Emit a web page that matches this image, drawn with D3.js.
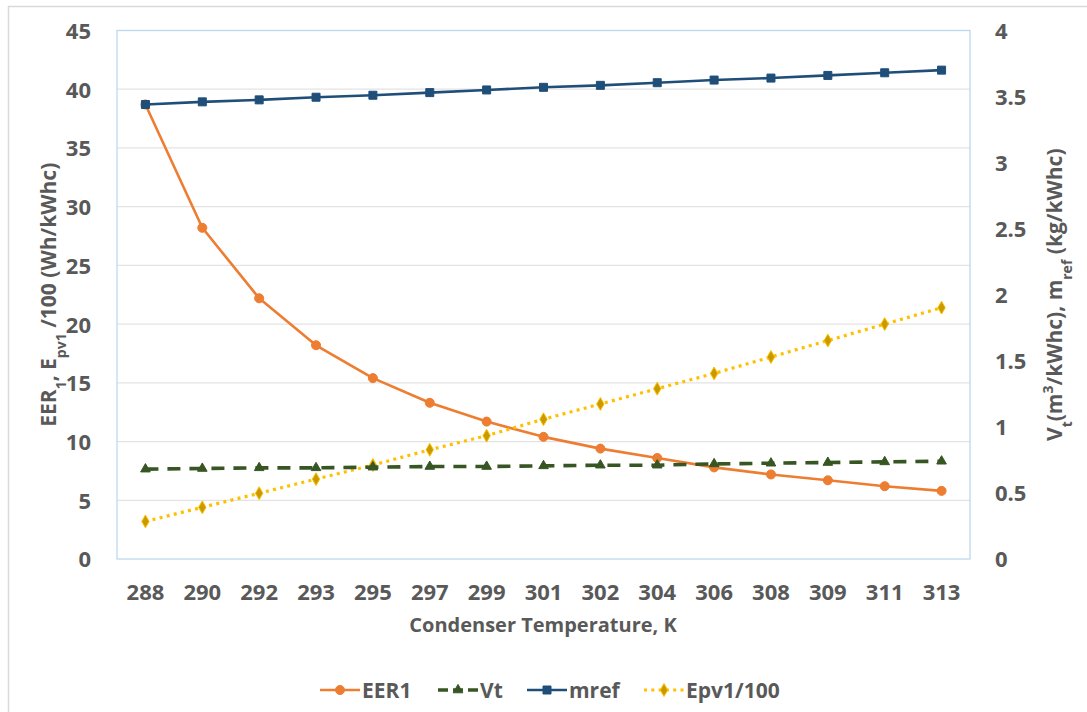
<!DOCTYPE html>
<html>
<head>
<meta charset="utf-8">
<script src="https://cdn.jsdelivr.net/npm/d3@7"></script>
<style>
  html, body { margin: 0; padding: 0; background: #fff; }
  svg { display: block; }
  text { font-family: "Open Sans", "Noto Sans", sans-serif; font-weight: 700; fill: #595959; }
</style>
</head>
<body>
<svg id="chart" width="1087" height="712"></svg>
<script>
// Condenser temperature categories (K)
const categories = ["288","290","292","293","295","297","299","301","302","304","306","308","309","311","313"];

// Primary axis series
const eer1    = [38.7, 28.2, 22.2, 18.2, 15.4, 13.3, 11.7, 10.4, 9.4, 8.6, 7.8, 7.2, 6.7, 6.2, 5.8];
const epv1100 = [3.2, 4.4, 5.6, 6.8, 8.0, 9.3, 10.5, 11.9, 13.2, 14.5, 15.8, 17.2, 18.6, 20.0, 21.4];

// Secondary axis series
const vt   = [0.68, 0.685, 0.69, 0.69, 0.695, 0.70, 0.70, 0.705, 0.71, 0.71, 0.72, 0.725, 0.73, 0.735, 0.74];
const mref = [3.44, 3.46, 3.475, 3.495, 3.51, 3.53, 3.55, 3.57, 3.585, 3.605, 3.625, 3.64, 3.66, 3.68, 3.70];

// Axis tick values
const leftTicks  = [0, 5, 10, 15, 20, 25, 30, 35, 40, 45];
const rightTicks = [0, 0.5, 1, 1.5, 2, 2.5, 3, 3.5, 4];
const rightTickLabels = ["0", "0.5", "1", "1.5", "2", "2.5", "3", "3.5", "4"];

const svg = d3.select("#chart");

const plot = { left: 117, right: 970, top: 30.5, bottom: 559 };

// Outer chart frame
svg.append("rect")
  .attr("x", 8.5).attr("y", 6.5)
  .attr("width", 1100).attr("height", 720)
  .attr("fill", "#fff").attr("stroke", "#d9d9d9").attr("stroke-width", 1.5);

const x = d3.scaleBand().domain(categories).range([plot.left, plot.right]).padding(0);
const yL = d3.scaleLinear().domain([0, 45]).range([plot.bottom, plot.top]);
const yR = d3.scaleLinear().domain([0, 4]).range([plot.bottom, plot.top]);
const cx = d => x(d) + x.bandwidth() / 2;

// Horizontal gridlines
svg.append("g")
  .selectAll("line")
  .data(leftTicks.filter(t => t > 0 && t < 45))
  .join("line")
  .attr("x1", plot.left).attr("x2", plot.right)
  .attr("y1", d => yL(d)).attr("y2", d => yL(d))
  .attr("stroke", "#e3e3e3").attr("stroke-width", 1.3);

// Plot area border
svg.append("rect")
  .attr("x", plot.left).attr("y", plot.top)
  .attr("width", plot.right - plot.left).attr("height", plot.bottom - plot.top)
  .attr("fill", "none").attr("stroke", "#bdd7ee").attr("stroke-width", 1.3);

// Left axis
const axL = svg.append("g")
  .attr("transform", `translate(${plot.left},0)`)
  .call(d3.axisLeft(yL).tickValues(leftTicks).tickSize(0).tickPadding(26));
axL.select(".domain").remove();
axL.selectAll("text").style("font-size", "22px").attr("fill", "#595959").attr("dy", "0.36em");

// Right axis
const axR = svg.append("g")
  .attr("transform", `translate(${plot.right},0)`)
  .call(d3.axisRight(yR).tickValues(rightTicks).tickFormat((d, i) => rightTickLabels[i]).tickSize(0).tickPadding(25));
axR.select(".domain").remove();
axR.selectAll("text").style("font-size", "22px").attr("fill", "#595959").attr("dy", "0.36em");

// Bottom axis
const axB = svg.append("g")
  .attr("transform", `translate(0,${plot.bottom})`)
  .call(d3.axisBottom(x).tickSize(0).tickPadding(25));
axB.select(".domain").remove();
axB.selectAll("text").style("font-size", "22px").attr("fill", "#595959").attr("dy", "0.71em");

// Axis titles
svg.append("text")
  .attr("x", 543).attr("y", 632)
  .attr("text-anchor", "middle")
  .style("font-size", "20px")
  .text("Condenser Temperature, K");

const leftTitle = svg.append("text")
  .attr("transform", `translate(56,${(plot.top + plot.bottom) / 2}) rotate(-90)`)
  .attr("text-anchor", "middle")
  .style("font-size", "21px");
leftTitle.append("tspan").text("EER");
leftTitle.append("tspan").attr("baseline-shift", "sub").style("font-size", "14px").text("1");
leftTitle.append("tspan").text(", E");
leftTitle.append("tspan").attr("baseline-shift", "sub").style("font-size", "14px").text("pv1");
leftTitle.append("tspan").text(" /100 (Wh/kWhc)");

const rightTitle = svg.append("text")
  .attr("transform", `translate(1062,${(plot.top + plot.bottom) / 2}) rotate(-90)`)
  .attr("text-anchor", "middle")
  .style("font-size", "21px");
rightTitle.append("tspan").text("V");
rightTitle.append("tspan").attr("baseline-shift", "sub").style("font-size", "14px").text("t");
rightTitle.append("tspan").text("(m");
rightTitle.append("tspan").attr("baseline-shift", "super").style("font-size", "14px").text("3");
rightTitle.append("tspan").text("/kWhc), m");
rightTitle.append("tspan").attr("baseline-shift", "sub").style("font-size", "14px").text("ref");
rightTitle.append("tspan").text(" (kg/kWhc)");

// Series definitions
const series = [
  { name: "EER1", values: eer1, y: yL, color: "#ed7d31", width: 2.6, dash: null, marker: d3.symbolCircle, msize: 64, mfill: "#ed7d31", mstroke: "#ed7d31" },
  { name: "Epv1/100", values: epv1100, y: yL, color: "#ffc000", width: 3.2, dash: "3,4.3", marker: d3.symbolDiamond, msize: 48, mfill: "#c99a00", mstroke: "#ffc000" },
  { name: "Vt", values: vt, y: yR, color: "#375623", width: 3.6, dash: "13,9", marker: d3.symbolTriangle, msize: 40, mfill: "#375623", mstroke: "#375623" },
  { name: "mref", values: mref, y: yR, color: "#1f4e79", width: 2.6, dash: null, marker: d3.symbolSquare, msize: 64, mfill: "#1f4e79", mstroke: "#1f4e79" }
];

series.forEach(s => {
  const g = svg.append("g");
  const line = d3.line().x((d, i) => cx(categories[i])).y(d => s.y(d));
  g.append("path")
    .datum(s.values)
    .attr("d", line)
    .attr("fill", "none")
    .attr("stroke", s.color)
    .attr("stroke-width", s.width)
    .attr("stroke-dasharray", s.dash)
    .attr("stroke-linejoin", "round");
  g.selectAll("path.m")
    .data(s.values)
    .join("path")
    .attr("class", "m")
    .attr("d", d3.symbol().type(s.marker).size(s.msize))
    .attr("transform", (d, i) => `translate(${cx(categories[i])},${s.y(d)})`)
    .attr("fill", s.mfill)
    .attr("stroke", s.mstroke)
    .attr("stroke-width", 1);
});

// Legend
const legendItems = [
  { label: "EER1", s: series[0], x0: 320 },
  { label: "Vt", s: series[2], x0: 438 },
  { label: "mref", s: series[3], x0: 527 },
  { label: "Epv1/100", s: series[1], x0: 644 }
];
const ly = 690;
const lg = svg.append("g");
legendItems.forEach(it => {
  const s = it.s;
  lg.append("line")
    .attr("x1", it.x0).attr("x2", it.x0 + 40)
    .attr("y1", ly).attr("y2", ly)
    .attr("stroke", s.color)
    .attr("stroke-width", s.width)
    .attr("stroke-dasharray", s.dash ? (s.name === "Vt" ? "10,5" : "3,4.3") : null);
  lg.append("path")
    .attr("d", d3.symbol().type(s.marker).size(s.msize))
    .attr("transform", `translate(${it.x0 + 20},${ly})`)
    .attr("fill", s.mfill).attr("stroke", s.mstroke).attr("stroke-width", 1);
  lg.append("text")
    .attr("x", it.x0 + 42).attr("y", ly)
    .attr("dy", "0.36em")
    .style("font-size", "21px")
    .text(it.label);
});
</script>
</body>
</html>
